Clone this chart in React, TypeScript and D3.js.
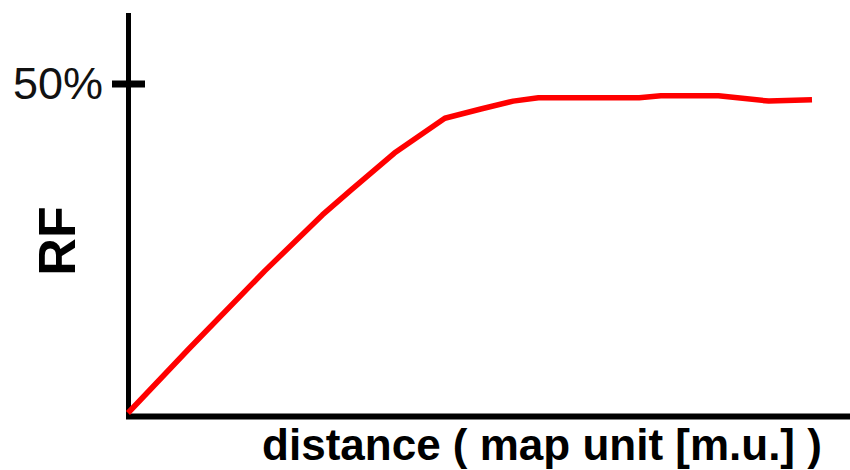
import * as d3 from "d3";

// values
const distance = [0, 8.5, 19, 27, 31, 37, 44, 49, 53.5, 57, 71, 74, 82, 89, 95];
const rf = [0, 9.8, 21.6, 30.1, 33.9, 39.5, 44.8, 46.2, 47.4, 47.9, 47.9, 48.2, 48.2, 47.4, 47.6];
const yTicks = [50];
const yTickLabels = ["50%"];

const W = 850;
const H = 470;

export default function App() {
  const x = d3.scaleLinear().domain([0, 100]).range([128, 848]);
  const y = d3.scaleLinear().domain([0, 50]).range([413, 84]);

  const line = d3
    .line<number>()
    .x((_, i) => x(distance[i]))
    .y((d) => y(d));

  const font = "'Liberation Sans', Arial, sans-serif";

  return (
    <svg
      width={W}
      height={H}
      style={{ position: "absolute", left: 0, top: 0, background: "#fff" }}
    >
      {/* axes */}
      <line x1={128.5} x2={128.5} y1={13} y2={419} stroke="#000" strokeWidth={5} />
      <line x1={126} x2={850} y1={416.5} y2={416.5} stroke="#000" strokeWidth={6} />

      {yTicks.map((t, i) => (
        <g key={t}>
          <line x1={112} x2={145} y1={y(t)} y2={y(t)} stroke="#000" strokeWidth={7} />
          <text
            x={103}
            y={y(t) + 15}
            textAnchor="end"
            fontFamily={font}
            fontSize={45}
            fill="#111"
          >
            {yTickLabels[i]}
          </text>
        </g>
      ))}

      {/* series */}
      <path
        d={line(rf) ?? ""}
        fill="none"
        stroke="#ff0000"
        strokeWidth={5.5}
        strokeLinejoin="round"
      />

      {/* axis titles */}
      <text
        transform="translate(75,241) rotate(-90)"
        textAnchor="middle"
        fontFamily={font}
        fontWeight="bold"
        fontSize={52}
        fill="#000"
      >
        RF
      </text>
      <text
        x={542}
        y={460}
        textAnchor="middle"
        fontFamily={font}
        fontWeight="bold"
        fontSize={44}
        fill="#000"
      >
        distance ( map unit [m.u.] )
      </text>
    </svg>
  );
}
